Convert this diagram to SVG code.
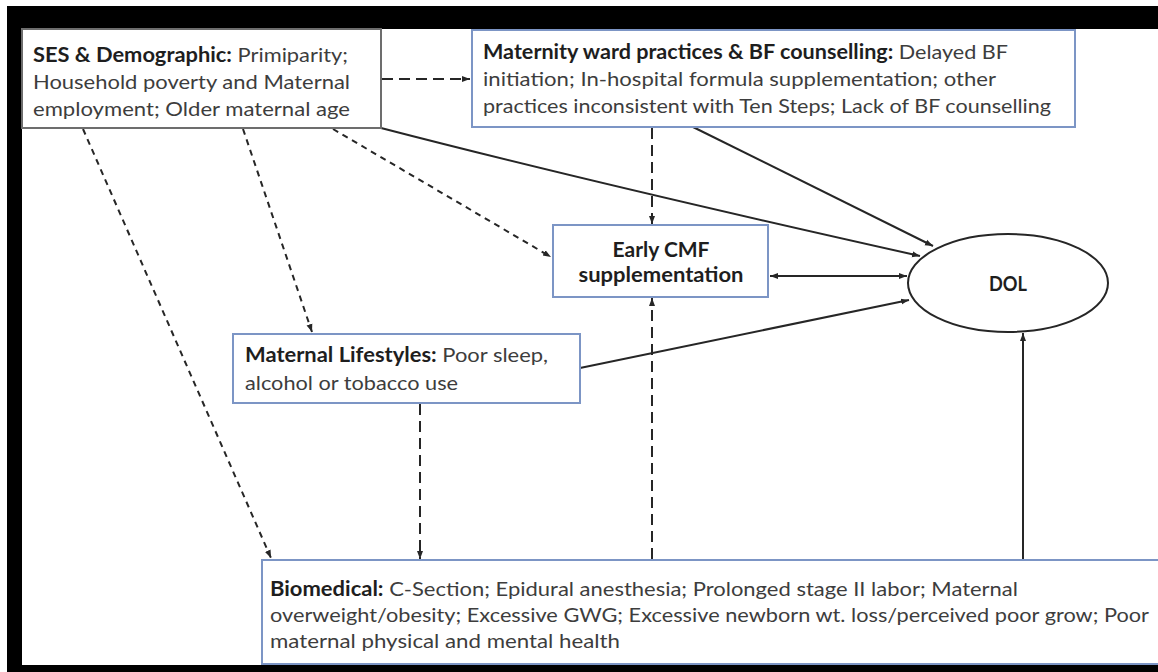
<svg xmlns="http://www.w3.org/2000/svg" width="1158" height="672" viewBox="0 0 1158 672">
<style>
.box{fill:#fff;stroke-width:2}
.gray{stroke:#6d6d6d}
.blue{stroke:#7c95c5}
.t{font-family:Lato,"Open Sans","Liberation Sans",sans-serif;font-size:20px;fill:#3d3d3d}
.b{font-weight:bold;fill:#1e1e1e}
.c{text-anchor:middle}
.ln{fill:none;stroke:#262626;stroke-width:2}
.d1{stroke-dasharray:6 5}
.d2{stroke-dasharray:11 6}
</style>
<defs>
<marker id="ah" markerUnits="userSpaceOnUse" markerWidth="10" markerHeight="10" refX="8" refY="4" orient="auto-start-reverse" viewBox="0 0 10 8">
<path d="M0,1 L8,4 L0,7 Z" fill="#262626"/>
</marker>
</defs>
<rect width="1158" height="672" fill="#fff"/>
<g id="frame" fill="#000">
<rect x="7" y="6" width="1151" height="23"/>
<rect x="7" y="6" width="15" height="666"/>
<rect x="7" y="665" width="1151" height="7"/>
</g>
<g id="connectors">
<line class="ln d2" x1="382" y1="79" x2="470" y2="79" marker-end="url(#ah)"/>
<line class="ln d1" x1="83" y1="129" x2="271" y2="558" marker-end="url(#ah)"/>
<line class="ln d1" x1="243" y1="129" x2="312" y2="332" marker-end="url(#ah)"/>
<line class="ln d1" x1="333" y1="129" x2="551" y2="257" marker-end="url(#ah)"/>
<path class="ln" d="M381,128 Q597,184 920,256" marker-end="url(#ah)"/>
<line class="ln" x1="693" y1="127" x2="933" y2="246" marker-end="url(#ah)"/>
<line class="ln d2" x1="652" y1="128" x2="652" y2="224" marker-end="url(#ah)"/>
<line class="ln d2" x1="652" y1="559" x2="652" y2="298" marker-end="url(#ah)"/>
<line class="ln" x1="1023" y1="559" x2="1023" y2="333" marker-end="url(#ah)"/>
<line class="ln" x1="580" y1="368" x2="909" y2="300" marker-end="url(#ah)"/>
<line class="ln d2" x1="420" y1="404" x2="420" y2="559" marker-end="url(#ah)"/>
<line class="ln" x1="770" y1="276" x2="907" y2="276" marker-start="url(#ah)" marker-end="url(#ah)"/>
</g>
<g id="ses">
<rect class="box gray" x="22" y="29" width="359" height="99"/>
<text class="t" x="33" y="62" textLength="315" lengthAdjust="spacingAndGlyphs"><tspan class="b">SES &amp; Demographic:</tspan> Primiparity;</text>
<text class="t" x="33" y="89" textLength="317" lengthAdjust="spacingAndGlyphs">Household poverty and Maternal</text>
<text class="t" x="33" y="116" textLength="317" lengthAdjust="spacingAndGlyphs">employment; Older maternal age</text>
</g>
<g id="maternity">
<rect class="box blue" x="472" y="30" width="603" height="97"/>
<text class="t" x="483" y="59" textLength="525" lengthAdjust="spacingAndGlyphs"><tspan class="b">Maternity ward practices &amp; BF counselling:</tspan> Delayed BF</text>
<text class="t" x="483" y="86" textLength="513" lengthAdjust="spacingAndGlyphs">initiation; In-hospital formula supplementation; other</text>
<text class="t" x="483" y="113" textLength="568" lengthAdjust="spacingAndGlyphs">practices inconsistent with Ten Steps; Lack of BF counselling</text>
</g>
<g id="early-cmf">
<rect class="box blue" x="553" y="225" width="215" height="72"/>
<text class="t b c" x="661" y="257" textLength="97" lengthAdjust="spacingAndGlyphs">Early CMF</text>
<text class="t b c" x="661" y="282" textLength="165" lengthAdjust="spacingAndGlyphs">supplementation</text>
</g>
<g id="dol">
<ellipse cx="1008" cy="283" rx="100" ry="49" fill="#fff" stroke="#262626" stroke-width="2"/>
<text class="t b c" x="1008" y="291" textLength="38" lengthAdjust="spacingAndGlyphs">DOL</text>
</g>
<g id="lifestyles">
<rect class="box blue" x="233" y="334" width="347" height="69"/>
<text class="t" x="245" y="362" textLength="303" lengthAdjust="spacingAndGlyphs"><tspan class="b">Maternal Lifestyles:</tspan> Poor sleep,</text>
<text class="t" x="245" y="390" textLength="213" lengthAdjust="spacingAndGlyphs">alcohol or tobacco use</text>
</g>
<g id="biomedical">
<rect class="box blue" x="262" y="560" width="900" height="104"/>
<text class="t" x="270" y="596" textLength="748" lengthAdjust="spacingAndGlyphs"><tspan class="b">Biomedical:</tspan> C-Section; Epidural anesthesia; Prolonged stage II labor; Maternal</text>
<text class="t" x="270" y="622" textLength="879" lengthAdjust="spacingAndGlyphs">overweight/obesity; Excessive GWG; Excessive newborn wt. loss/perceived poor grow; Poor</text>
<text class="t" x="270" y="648" textLength="350" lengthAdjust="spacingAndGlyphs">maternal physical and mental health</text>
</g>
</svg>
